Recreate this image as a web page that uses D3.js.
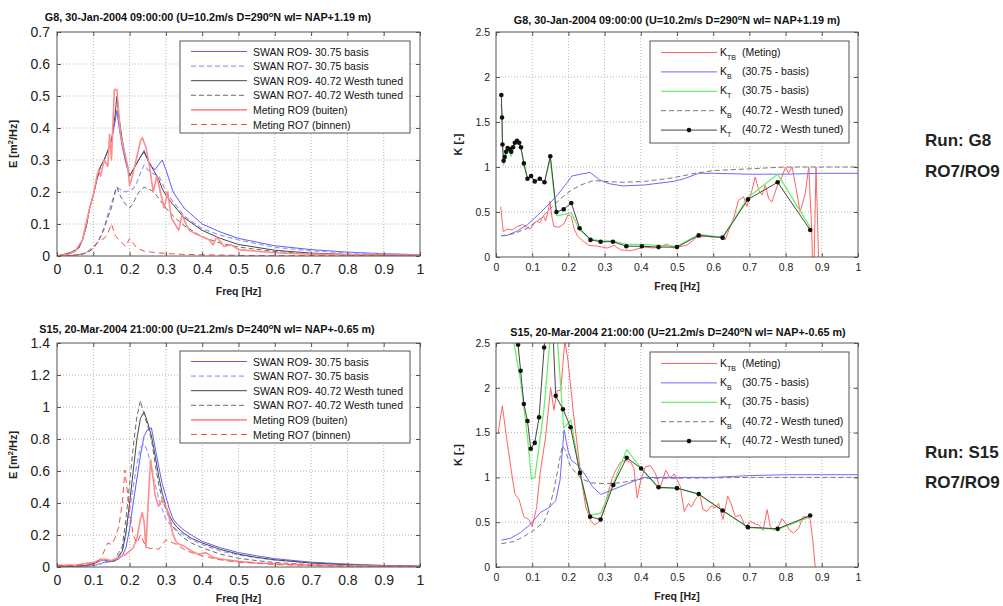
<!DOCTYPE html>
<html>
<head>
<meta charset="utf-8">
<script src="https://cdn.jsdelivr.net/npm/d3@7"></script>
<style>
  body { margin: 0; background: #fff; }
  svg { display: block; font-family: Arial, "Liberation Sans", sans-serif; }
</style>
</head>
<body>
<svg id="fig" width="1003" height="606"></svg>
<script>
// ---------- tick values ----------
const freqTicks = [0, 0.1, 0.2, 0.3, 0.4, 0.5, 0.6, 0.7, 0.8, 0.9, 1];
const eTicksG8 = [0, 0.1, 0.2, 0.3, 0.4, 0.5, 0.6, 0.7];
const eTicksS15 = [0, 0.2, 0.4, 0.6, 0.8, 1, 1.2, 1.4];
const kTicks = [0, 0.5, 1, 1.5, 2, 2.5];

// ---------- legend texts ----------
const spectrumLabels = [
  "SWAN RO9- 30.75 basis",
  "SWAN RO7- 30.75 basis",
  "SWAN RO9- 40.72 Westh tuned",
  "SWAN RO7- 40.72 Westh tuned",
  "Meting RO9 (buiten)",
  "Meting RO7 (binnen)"
];
const kSubscripts = ["TB", "B", "T", "B", "T"];
const kLabels = ["(Meting)", "(30.75 - basis)", "(30.75 - basis)", "(40.72 - Westh tuned)", "(40.72 - Westh tuned)"];

// ---------- G8 spectra ----------
const g8Freq = [0,0.02,0.04,0.06,0.07,0.08,0.09,0.1,0.11,0.12,0.13,0.14,0.15,0.16,0.165,0.17,0.18,0.19,0.2,0.21,0.22,0.23,0.24,0.25,0.26,0.27,0.28,0.29,0.3,0.32,0.35,0.4,0.45,0.5,0.6,0.7,0.8,0.9,1.0];
const g8SwanRO9Basis = [0,0.005,0.012,0.025,0.05,0.09,0.15,0.19,0.24,0.28,0.30,0.33,0.36,0.42,0.455,0.41,0.34,0.29,0.25,0.27,0.29,0.31,0.33,0.30,0.28,0.27,0.285,0.30,0.27,0.20,0.15,0.10,0.075,0.055,0.032,0.02,0.012,0.007,0.004];
const g8SwanRO7Basis = [0,0,0.002,0.004,0.006,0.01,0.015,0.025,0.04,0.06,0.09,0.13,0.165,0.2,0.215,0.21,0.205,0.2,0.205,0.21,0.23,0.26,0.285,0.27,0.26,0.255,0.25,0.23,0.2,0.17,0.125,0.085,0.065,0.05,0.027,0.016,0.01,0.006,0.004];
const g8SwanRO9Tuned = [0,0.005,0.012,0.025,0.05,0.09,0.15,0.19,0.24,0.28,0.30,0.33,0.36,0.44,0.50,0.44,0.36,0.30,0.25,0.27,0.29,0.31,0.325,0.30,0.28,0.26,0.24,0.21,0.19,0.16,0.12,0.08,0.055,0.036,0.018,0.009,0.005,0.003,0.002];
const g8SwanRO7Tuned = [0,0,0.002,0.004,0.006,0.01,0.015,0.025,0.04,0.06,0.085,0.12,0.15,0.2,0.215,0.2,0.175,0.16,0.15,0.165,0.19,0.205,0.215,0.21,0.205,0.195,0.18,0.165,0.15,0.125,0.095,0.06,0.04,0.028,0.014,0.007,0.004,0.002,0.001];
const g8MetingRO9Freq = [0,0.03,0.05,0.07,0.08,0.09,0.1,0.11,0.115,0.12,0.13,0.14,0.145,0.15,0.158,0.165,0.17,0.175,0.185,0.195,0.2,0.21,0.22,0.23,0.235,0.245,0.255,0.265,0.275,0.285,0.295,0.305,0.315,0.325,0.335,0.345,0.355,0.365,0.38,0.4,0.42,0.43,0.44,0.46,0.48,0.5,0.55,0.6,0.7,0.8,0.9,1.0];
const g8MetingRO9 = [0,0.005,0.015,0.05,0.1,0.15,0.19,0.25,0.27,0.25,0.30,0.28,0.38,0.30,0.52,0.52,0.45,0.38,0.33,0.28,0.22,0.26,0.31,0.36,0.37,0.34,0.28,0.2,0.25,0.2,0.15,0.2,0.12,0.1,0.08,0.13,0.1,0.08,0.07,0.06,0.05,0.035,0.06,0.03,0.035,0.02,0.015,0.01,0.006,0.004,0.003,0.002];
const g8MetingRO7Freq = [0,0.05,0.08,0.1,0.12,0.13,0.14,0.15,0.16,0.17,0.18,0.19,0.2,0.21,0.22,0.24,0.26,0.3,0.35,0.4,0.5,0.6,0.8,1.0];
const g8MetingRO7 = [0,0.002,0.01,0.03,0.05,0.055,0.07,0.1,0.065,0.05,0.04,0.03,0.055,0.04,0.025,0.015,0.012,0.008,0.005,0.004,0.002,0.001,0.001,0];

// ---------- S15 spectra ----------
const s15Freq = [0,0.05,0.08,0.1,0.12,0.13,0.14,0.15,0.16,0.17,0.18,0.19,0.2,0.21,0.22,0.23,0.24,0.25,0.26,0.27,0.28,0.29,0.3,0.31,0.32,0.33,0.35,0.37,0.4,0.45,0.5,0.55,0.6,0.7,0.8,0.9,1.0];
const s15SwanRO9Basis = [0,0.003,0.005,0.01,0.02,0.03,0.035,0.035,0.04,0.05,0.07,0.12,0.24,0.4,0.55,0.7,0.82,0.86,0.87,0.75,0.63,0.52,0.44,0.36,0.3,0.27,0.23,0.2,0.16,0.12,0.09,0.07,0.052,0.03,0.018,0.01,0.006];
const s15SwanRO7Basis = [0,0.003,0.005,0.01,0.02,0.025,0.03,0.03,0.04,0.06,0.1,0.2,0.35,0.5,0.64,0.75,0.77,0.72,0.62,0.52,0.43,0.36,0.3,0.27,0.25,0.23,0.2,0.17,0.14,0.1,0.075,0.058,0.043,0.025,0.015,0.008,0.005];
const s15SwanRO9Tuned = [0,0.005,0.01,0.02,0.04,0.045,0.04,0.035,0.04,0.07,0.1,0.22,0.4,0.6,0.8,0.93,0.97,0.9,0.82,0.7,0.57,0.46,0.38,0.32,0.28,0.25,0.21,0.18,0.15,0.11,0.08,0.06,0.045,0.025,0.014,0.008,0.005];
const s15SwanRO7Tuned = [0,0.005,0.01,0.02,0.04,0.045,0.04,0.035,0.05,0.09,0.13,0.3,0.52,0.75,0.94,1.04,0.95,0.88,0.8,0.65,0.52,0.42,0.36,0.3,0.25,0.22,0.18,0.15,0.12,0.08,0.055,0.04,0.028,0.015,0.008,0.005,0.003];
const s15MetingRO9Freq = [0,0.05,0.1,0.13,0.15,0.17,0.19,0.2,0.21,0.22,0.23,0.235,0.24,0.245,0.25,0.258,0.265,0.27,0.28,0.29,0.3,0.31,0.32,0.33,0.35,0.37,0.39,0.41,0.43,0.45,0.5,0.55,0.6,0.7,0.8,0.9,1.0];
const s15MetingRO9 = [0.01,0.01,0.03,0.05,0.04,0.06,0.08,0.1,0.12,0.18,0.3,0.34,0.28,0.12,0.35,0.67,0.55,0.45,0.38,0.42,0.38,0.3,0.2,0.15,0.13,0.1,0.08,0.09,0.06,0.05,0.035,0.025,0.02,0.012,0.008,0.005,0.003];
const s15MetingRO7Freq = [0,0.05,0.1,0.12,0.13,0.14,0.15,0.16,0.17,0.18,0.187,0.195,0.2,0.21,0.22,0.23,0.24,0.25,0.26,0.27,0.28,0.29,0.3,0.31,0.32,0.33,0.35,0.37,0.4,0.42,0.45,0.5,0.55,0.6,0.7,0.8,0.9,1.0];
const s15MetingRO7 = [0.01,0.01,0.02,0.05,0.1,0.15,0.14,0.18,0.25,0.4,0.606,0.45,0.35,0.2,0.15,0.2,0.15,0.12,0.115,0.12,0.11,0.14,0.17,0.16,0.15,0.14,0.11,0.09,0.07,0.06,0.045,0.03,0.025,0.015,0.01,0.005,0.004,0.003];

// ---------- G8 transmission coefficients ----------
const g8KtbFreq = [0.013,0.02,0.031,0.045,0.059,0.073,0.087,0.094,0.103,0.112,0.121,0.131,0.137,0.144,0.149,0.155,0.16,0.174,0.188,0.199,0.208,0.216,0.225,0.239,0.257,0.28,0.308,0.326,0.344,0.372,0.409,0.437,0.455,0.473,0.49,0.5,0.527,0.555,0.583,0.6,0.62,0.633,0.657,0.67,0.684,0.693,0.707,0.716,0.726,0.735,0.744,0.753,0.762,0.776,0.79,0.8,0.808,0.818,0.83,0.84,0.854,0.864,0.872,0.877,0.884,0.891,0.895];
const g8Ktb = [0.56,0.28,0.31,0.30,0.34,0.36,0.33,0.31,0.36,0.40,0.38,0.46,0.40,0.51,0.62,0.43,0.34,0.33,0.37,0.47,0.45,0.31,0.235,0.18,0.13,0.12,0.10,0.13,0.08,0.07,0.11,0.10,0.12,0.145,0.10,0.11,0.13,0.22,0.23,0.22,0.23,0.19,0.44,0.63,0.67,0.56,0.74,0.89,0.74,0.69,0.80,0.65,0.61,0.78,0.89,1.0,0.93,1.0,0.74,0.50,0.70,1.0,0.3,-0.4,1.0,0.0,-0.5];
const g8KbBasisFreq = [0.015,0.031,0.059,0.087,0.114,0.142,0.17,0.197,0.21,0.234,0.26,0.285,0.312,0.349,0.41,0.49,0.52,0.56,0.6,0.7,0.8,0.9,1.0];
const g8KbBasis = [0.235,0.24,0.29,0.36,0.46,0.57,0.69,0.83,0.90,0.92,0.94,0.86,0.815,0.79,0.80,0.84,0.87,0.93,0.93,0.92,0.92,0.93,0.93];
const g8KbTunedFreq = [0.015,0.05,0.087,0.124,0.156,0.179,0.207,0.234,0.27,0.3,0.35,0.41,0.49,0.55,0.6,0.7,0.8,0.9,1.0];
const g8KbTuned = [0.235,0.26,0.32,0.43,0.56,0.65,0.74,0.80,0.85,0.84,0.83,0.84,0.88,0.93,0.96,0.98,1.0,1.0,1.0];
const g8KtFreq = [0.0147,0.0166,0.018,0.021,0.024,0.028,0.032,0.038,0.042,0.047,0.052,0.058,0.064,0.069,0.077,0.087,0.097,0.107,0.121,0.134,0.150,0.167,0.187,0.208,0.231,0.261,0.289,0.323,0.360,0.403,0.449,0.500,0.560,0.626,0.696,0.778,0.868];
const g8KtBasis = [1.70,1.50,1.20,1.02,1.08,1.15,1.18,1.17,1.12,1.20,1.25,1.27,1.25,1.20,1.03,0.87,0.90,0.84,0.87,0.83,1.10,0.46,0.47,0.49,0.30,0.20,0.18,0.18,0.14,0.14,0.13,0.12,0.25,0.22,0.66,0.92,0.33];
const g8KtTuned = [1.80,1.55,1.25,1.07,1.11,1.17,1.21,1.20,1.17,1.22,1.27,1.29,1.27,1.22,1.04,0.87,0.90,0.84,0.87,0.83,1.12,0.50,0.53,0.60,0.32,0.19,0.17,0.17,0.12,0.12,0.11,0.11,0.24,0.215,0.64,0.83,0.30];

// ---------- S15 transmission coefficients ----------
const s15KtbFreq = [0.0055,0.0175,0.029,0.042,0.052,0.064,0.077,0.091,0.1,0.112,0.123,0.137,0.151,0.16,0.169,0.179,0.19,0.199,0.214,0.225,0.236,0.248,0.262,0.273,0.287,0.298,0.309,0.321,0.331,0.344,0.358,0.372,0.381,0.39,0.4,0.413,0.427,0.441,0.453,0.469,0.481,0.492,0.509,0.52,0.532,0.54,0.55,0.563,0.572,0.583,0.594,0.606,0.615,0.627,0.64,0.649,0.661,0.675,0.689,0.703,0.716,0.726,0.738,0.749,0.758,0.767,0.778,0.79,0.8,0.811,0.822,0.836,0.848,0.859,0.868,0.875,0.882,0.887];
const s15Ktb = [1.49,1.80,1.45,1.08,0.82,0.75,0.56,0.53,0.45,0.66,1.08,1.45,2.0,1.75,1.97,1.97,2.52,2.30,1.71,1.34,0.97,0.67,0.51,0.47,0.51,0.64,0.82,0.99,1.08,1.17,1.19,1.17,1.10,0.77,0.97,1.12,1.13,1.04,0.88,1.08,0.99,1.04,0.9,0.62,0.71,0.67,0.75,0.81,0.64,0.62,0.68,0.66,0.71,0.53,0.79,0.71,0.56,0.58,0.45,0.51,0.48,0.47,0.41,0.64,0.45,0.41,0.43,0.54,0.49,0.41,0.38,0.43,0.56,0.56,0.53,0.3,0,-0.3];
const s15KbBasisFreq = [0.015,0.04,0.068,0.096,0.123,0.146,0.165,0.177,0.188,0.199,0.208,0.225,0.243,0.266,0.289,0.321,0.363,0.409,0.49,0.6,0.7,0.8,0.9,1.0];
const s15KbBasis = [0.30,0.32,0.385,0.48,0.61,0.66,0.74,0.97,1.53,1.30,1.19,1.14,1.05,0.90,0.81,0.86,0.93,1.0,1.0,1.0,1.02,1.03,1.03,1.03];
const s15KbTunedFreq = [0.015,0.05,0.077,0.105,0.133,0.146,0.16,0.174,0.183,0.192,0.206,0.234,0.262,0.298,0.344,0.409,0.5,0.7,1.0];
const s15KbTuned = [0.26,0.285,0.34,0.41,0.51,0.64,0.86,1.16,1.35,1.30,1.12,0.99,0.94,0.93,0.94,0.99,0.99,1.0,1.0];
const s15KtBasisFreq = [0.03,0.045,0.068,0.087,0.098,0.107,0.119,0.133,0.146,0.16,0.172,0.18,0.187,0.207,0.231,0.26,0.289,0.324,0.361,0.403,0.449,0.5,0.56,0.626,0.696,0.778,0.868];
const s15KtBasis = [3.5,2.6,2.08,1.45,0.98,1.0,1.34,1.78,2.4,3.0,2.4,1.95,1.55,1.64,1.06,0.58,0.60,0.93,1.31,1.09,0.88,0.88,0.81,0.63,0.44,0.42,0.56];
const s15KtTunedFreq = [0.052,0.061,0.068,0.077,0.087,0.096,0.107,0.119,0.133,0.15,0.165,0.185,0.206,0.232,0.26,0.289,0.324,0.361,0.401,0.449,0.5,0.56,0.626,0.696,0.778,0.868];
const s15KtTuned = [3.2,2.48,2.19,1.82,1.63,1.32,1.385,1.67,2.45,3.3,1.91,1.76,1.56,1.05,0.56,0.53,0.915,1.22,1.10,0.89,0.88,0.815,0.63,0.445,0.426,0.574];

// ---------- styles ----------
const specStyles = [
  { color: "#5d5dff", width: 1 },
  { color: "#9a9aff", width: 1.2, dash: "5,3" },
  { color: "#474747", width: 1 },
  { color: "#6a6a6a", width: 1, dash: "5,3" },
  { color: "#ff8c8c", width: 1.6 },
  { color: "#ff4c4c", width: 1, dash: "6,4" }
];
const kStyles = [
  { color: "#ff6464", width: 1 },
  { color: "#6b6bff", width: 1 },
  { color: "#6cf06c", width: 1.3 },
  { color: "#7a7a7a", width: 1, dash: "5,3" },
  { color: "#474747", width: 1, dots: true }
];

const svg = d3.select("#fig");
let clipCount = 0;

function drawPanel(p) {
  const x = d3.scaleLinear().domain([0, 1]).range([p.left, p.right]);
  const y = d3.scaleLinear().domain([0, p.ymax]).range([p.bottom, p.top]);
  const g = svg.append("g");
  const clipId = "clip" + (clipCount++);
  svg.append("clipPath").attr("id", clipId).append("rect")
    .attr("x", p.left).attr("y", p.top)
    .attr("width", p.right - p.left).attr("height", p.bottom - p.top);

  // dotted grid
  g.append("g").selectAll("line").data(freqTicks.slice(1, -1)).join("line")
    .attr("x1", d => x(d)).attr("x2", d => x(d))
    .attr("y1", p.top).attr("y2", p.bottom)
    .attr("stroke", "#b4b4b4").attr("stroke-dasharray", "1,2");
  g.append("g").selectAll("line").data(p.yTicks.slice(1, -1)).join("line")
    .attr("y1", d => y(d)).attr("y2", d => y(d))
    .attr("x1", p.left).attr("x2", p.right)
    .attr("stroke", "#b4b4b4").attr("stroke-dasharray", "1,2");

  // series
  const line = d3.line().x(d => x(d[0])).y(d => y(d[1]));
  const sg = g.append("g").attr("clip-path", `url(#${clipId})`);
  p.series.forEach(s => {
    const pts = d3.zip(s.f, s.v);
    sg.append("path").datum(pts).attr("d", line)
      .attr("fill", "none").attr("stroke", s.style.color)
      .attr("stroke-width", s.style.width)
      .attr("stroke-dasharray", s.style.dash || null)
      .attr("stroke-linejoin", "round");
    if (s.style.dots) {
      sg.append("g").selectAll("circle").data(pts).join("circle")
        .attr("cx", d => x(d[0])).attr("cy", d => y(d[1]))
        .attr("r", 2.3).attr("fill", "#111");
    }
  });

  // axes with inward ticks
  const fmt = d3.format("~g");
  const styleAxis = (sel, fs) => {
    sel.select(".domain").remove();
    sel.selectAll(".tick line").attr("stroke", "#555");
    sel.selectAll("text").attr("font-size", fs).attr("fill", "#222")
      .attr("font-family", "Arial, 'Liberation Sans', sans-serif");
  };
  g.append("g").attr("transform", `translate(0,${p.bottom})`)
    .call(d3.axisBottom(x).tickValues(freqTicks).tickFormat(fmt)
      .tickSizeInner(-4).tickSizeOuter(0).tickPadding(p.xPad))
    .call(sel => styleAxis(sel, p.xFont));
  g.append("g").attr("transform", `translate(${p.left},0)`)
    .call(d3.axisLeft(y).tickValues(p.yTicks).tickFormat(fmt)
      .tickSizeInner(-4).tickSizeOuter(0).tickPadding(p.yPad))
    .call(sel => styleAxis(sel, p.yFont));
  g.append("g").attr("transform", `translate(0,${p.top})`)
    .call(d3.axisTop(x).tickValues(freqTicks).tickFormat("")
      .tickSizeInner(-4).tickSizeOuter(0))
    .call(sel => styleAxis(sel, 0));
  g.append("g").attr("transform", `translate(${p.right},0)`)
    .call(d3.axisRight(y).tickValues(p.yTicks).tickFormat("")
      .tickSizeInner(-4).tickSizeOuter(0))
    .call(sel => styleAxis(sel, 0));

  g.append("rect").attr("x", p.left).attr("y", p.top)
    .attr("width", p.right - p.left).attr("height", p.bottom - p.top)
    .attr("fill", "none").attr("stroke", "#555").attr("stroke-width", 1);

  // title
  const t = g.append("text").attr("x", p.titleX).attr("y", p.titleY)
    .attr("text-anchor", "middle").attr("font-size", 10.8).attr("font-weight", "bold")
    .attr("fill", "#111");
  t.append("tspan").text(p.title[0]);
  t.append("tspan").attr("dy", -4).attr("font-size", 7.5).text("o");
  t.append("tspan").attr("dy", 4).text(p.title[1]);

  // axis labels
  g.append("text").attr("x", (p.left + p.right) / 2).attr("y", p.xLabelY)
    .attr("text-anchor", "middle").attr("font-size", 10.5).attr("font-weight", "bold")
    .attr("fill", "#222").text("Freq [Hz]");
  const yl = g.append("text")
    .attr("transform", `translate(${p.yLabelX},${(p.top + p.bottom) / 2}) rotate(-90)`)
    .attr("text-anchor", "middle").attr("font-size", 11).attr("font-weight", "bold")
    .attr("fill", "#222");
  if (p.kind === "E") {
    yl.append("tspan").text("E [m");
    yl.append("tspan").attr("dy", -4).attr("font-size", 7.5).text("2");
    yl.append("tspan").attr("dy", 4).text("/Hz]");
  } else {
    yl.text("K [-]");
  }

  // legend
  const L = p.legend;
  const lg = g.append("g");
  lg.append("rect").attr("x", L.x0).attr("y", L.y0)
    .attr("width", L.x1 - L.x0).attr("height", L.y1 - L.y0)
    .attr("fill", "#fff").attr("stroke", "#555");
  p.series.forEach((s, i) => {
    const yy = L.row0 + i * L.step;
    lg.append("line").attr("x1", L.lx0).attr("x2", L.lx1).attr("y1", yy).attr("y2", yy)
      .attr("stroke", s.style.color).attr("stroke-width", s.style.width)
      .attr("stroke-dasharray", s.style.dash || null);
    if (s.style.dots) {
      lg.append("circle").attr("cx", (L.lx0 + L.lx1) / 2).attr("cy", yy).attr("r", 2.3).attr("fill", "#111");
    }
    if (p.kind === "E") {
      lg.append("text").attr("x", L.tx).attr("y", yy + 4)
        .attr("font-size", 10.5).attr("fill", "#111").text(spectrumLabels[i]);
    } else {
      const tk = lg.append("text").attr("x", L.tx).attr("y", yy + 3)
        .attr("font-size", 10.5).attr("fill", "#111");
      tk.append("tspan").text("K");
      tk.append("tspan").attr("dy", 4).attr("font-size", 7).text(kSubscripts[i]);
      lg.append("text").attr("x", L.tx2).attr("y", yy + 3)
        .attr("font-size", 10.5).attr("fill", "#111").text(kLabels[i]);
    }
  });
}

const eLegend = (top) => ({ x0: 180, x1: 410, y0: top, y1: top + 92, lx0: 191, lx1: 247, tx: 253, row0: top + 10.5, step: 14.6 });
const kLegend = (top, bottom) => ({ x0: 650, x1: 849, y0: top, y1: bottom, lx0: 661, lx1: 717, tx: 720, tx2: 742, row0: top + 11.5, step: 19.4 });

const g8Title = ["G8, 30-Jan-2004 09:00:00 (U=10.2m/s D=290", "N wl= NAP+1.19 m)"];
const s15Title = ["S15, 20-Mar-2004 21:00:00 (U=21.2m/s D=240", "N wl= NAP+-0.65 m)"];

drawPanel({
  kind: "E", left: 57, right: 420, top: 32, bottom: 256, ymax: 0.7, yTicks: eTicksG8,
  xPad: 8, yPad: 7, xFont: 14, yFont: 14,
  title: g8Title, titleX: 208, titleY: 21, xLabelY: 295, yLabelX: 17,
  legend: eLegend(41),
  series: [
    { f: g8Freq, v: g8SwanRO9Basis, style: specStyles[0] },
    { f: g8Freq, v: g8SwanRO7Basis, style: specStyles[1] },
    { f: g8Freq, v: g8SwanRO9Tuned, style: specStyles[2] },
    { f: g8Freq, v: g8SwanRO7Tuned, style: specStyles[3] },
    { f: g8MetingRO9Freq, v: g8MetingRO9, style: specStyles[4] },
    { f: g8MetingRO7Freq, v: g8MetingRO7, style: specStyles[5] }
  ]
});

drawPanel({
  kind: "E", left: 57, right: 420, top: 343, bottom: 567, ymax: 1.4, yTicks: eTicksS15,
  xPad: 8, yPad: 7, xFont: 14, yFont: 14,
  title: s15Title, titleX: 207, titleY: 333, xLabelY: 602, yLabelX: 17,
  legend: eLegend(351),
  series: [
    { f: s15Freq, v: s15SwanRO9Basis, style: specStyles[0] },
    { f: s15Freq, v: s15SwanRO7Basis, style: specStyles[1] },
    { f: s15Freq, v: s15SwanRO9Tuned, style: specStyles[2] },
    { f: s15Freq, v: s15SwanRO7Tuned, style: specStyles[3] },
    { f: s15MetingRO9Freq, v: s15MetingRO9, style: specStyles[4] },
    { f: s15MetingRO7Freq, v: s15MetingRO7, style: specStyles[5] }
  ]
});

drawPanel({
  kind: "K", left: 496, right: 858, top: 32, bottom: 257, ymax: 2.5, yTicks: kTicks,
  xPad: 7, yPad: 6, xFont: 10.5, yFont: 10.5,
  title: g8Title, titleX: 677, titleY: 24, xLabelY: 290, yLabelX: 462,
  legend: kLegend(41, 143),
  series: [
    { f: g8KtbFreq, v: g8Ktb, style: kStyles[0] },
    { f: g8KbBasisFreq, v: g8KbBasis, style: kStyles[1] },
    { f: g8KtFreq, v: g8KtBasis, style: kStyles[2] },
    { f: g8KbTunedFreq, v: g8KbTuned, style: kStyles[3] },
    { f: g8KtFreq, v: g8KtTuned, style: kStyles[4] }
  ]
});

drawPanel({
  kind: "K", left: 496, right: 858, top: 343, bottom: 567, ymax: 2.5, yTicks: kTicks,
  xPad: 7, yPad: 6, xFont: 10.5, yFont: 10.5,
  title: s15Title, titleX: 678, titleY: 336, xLabelY: 600, yLabelX: 462,
  legend: kLegend(352, 457),
  series: [
    { f: s15KtbFreq, v: s15Ktb, style: kStyles[0] },
    { f: s15KbBasisFreq, v: s15KbBasis, style: kStyles[1] },
    { f: s15KtBasisFreq, v: s15KtBasis, style: kStyles[2] },
    { f: s15KbTunedFreq, v: s15KbTuned, style: kStyles[3] },
    { f: s15KtTunedFreq, v: s15KtTuned, style: kStyles[4] }
  ]
});

// run annotations on the right
const runNotes = [
  { text: "Run: G8", y: 146 },
  { text: "RO7/RO9", y: 177 },
  { text: "Run: S15", y: 458 },
  { text: "RO7/RO9", y: 488 }
];
svg.append("g").selectAll("text").data(runNotes).join("text")
  .attr("x", 925).attr("y", d => d.y)
  .attr("font-size", 17).attr("font-weight", "bold").attr("fill", "#222")
  .text(d => d.text);
</script>
</body>
</html>
